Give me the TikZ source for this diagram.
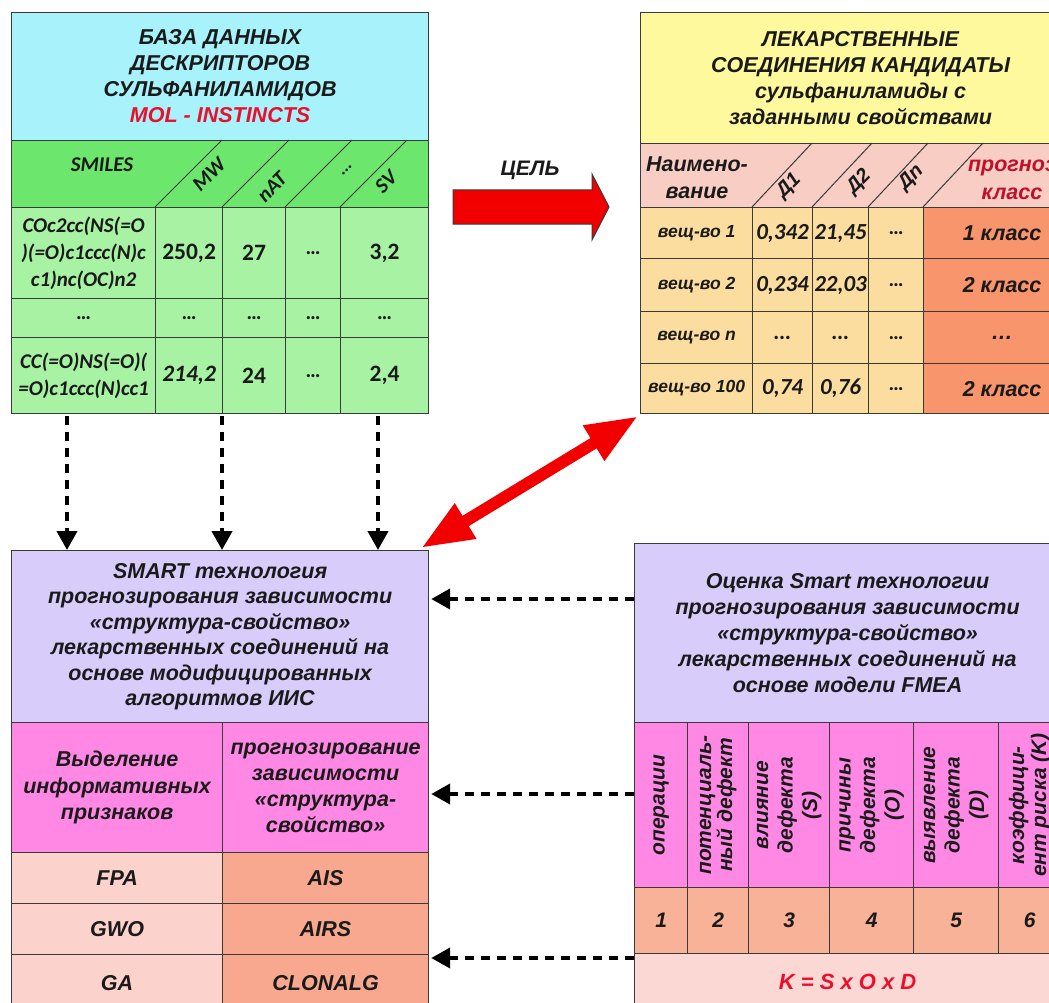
\documentclass[tikz,border=0pt]{standalone}
\usepackage{fontspec}
\setmainfont{Liberation Sans}
\newfontfamily\calib{Carlito}
\usetikzlibrary{arrows.meta,calc}
\definecolor{bord}{HTML}{3A3A3A}
\definecolor{txt}{HTML}{1A1A1A}
\definecolor{cyanh}{HTML}{A8F2FB}
\definecolor{greenh}{HTML}{6CE66C}
\definecolor{greenl}{HTML}{A8F2A4}
\definecolor{yellowh}{HTML}{FFF99E}
\definecolor{pinkh}{HTML}{F7CDC4}
\definecolor{orangel}{HTML}{FCDDA0}
\definecolor{oranged}{HTML}{F8956C}
\definecolor{purpleh}{HTML}{D8CCFA}
\definecolor{magh}{HTML}{FF88E4}
\definecolor{pinkl}{HTML}{FBD2CC}
\definecolor{salmon}{HTML}{F7A88E}
\definecolor{salmonl}{HTML}{F8B298}
\definecolor{pinkf}{HTML}{FCD8D4}
\definecolor{redt}{HTML}{E8102C}
\definecolor{redd}{HTML}{C0102A}
\definecolor{redA}{HTML}{F20000}
\newcommand\fsz[2]{\fontsize{#1}{#2}\selectfont}
\newcommand\bi{\bfseries\itshape}
\newcommand\mkcell[8]{\node[cell,fill=#6,minimum width=#4pt,minimum height=#5pt,font={#7}] (#1) at (#2,#3) {#8};}
\begin{document}
\begin{tikzpicture}[x=1pt,y=-1pt,
  cell/.style={draw=bord,line width=1.2pt,inner sep=0pt,align=center,anchor=north west,text=txt},
  lbl/.style={inner sep=0pt,align=center,text=txt},
  diag/.style={draw=bord,line width=1pt},
  dasharr/.style={line width=4pt,dash pattern=on 9pt off 7pt,-{Triangle[length=19pt,width=20pt]},draw=black},
  bigarr/.style={line width=12pt,draw=redA,{Triangle[length=52pt,width=38pt]}-{Triangle[length=52pt,width=38pt]}},
  goalarr/.style={fill=redA,draw=bord,line width=1pt,line join=miter}
]
\useasboundingbox (0,0) rectangle (1049,1003);
\clip (0,0) rectangle (1049,1003);
\fill[white] (0,0) rectangle (1049,1003);

% ---------- top-left table ----------
\mkcell{tlh}{11}{12}{417}{128}{cyanh}{\fsz{21.5}{26}\bi}{БАЗА ДАННЫХ\\ДЕСКРИПТОРОВ\\СУЛЬФАНИЛАМИДОВ\\\textcolor{redt}{MOL - INSTINCTS}}
\mkcell{tlg}{11}{140}{417}{67}{greenh}{}{}
\mkcell{tlr1a}{11}{207}{144}{91}{greenl}{\calib\fsz{21}{27}\bi}{COc2cc(NS(=O\\)(=O)c1ccc(N)c\\c1)nc(OC)n2}
\mkcell{tlr1b}{155}{207}{67}{91}{greenl}{\calib\fsz{23.5}{26}\bfseries}{250,2}
\mkcell{tlr1c}{222}{207}{63}{91}{greenl}{\calib\fsz{23.5}{26}\bfseries}{27}
\mkcell{tlr1d}{285}{207}{55}{91}{greenl}{\calib\fsz{21}{26}\bfseries}{\dots}
\mkcell{tlr1e}{340}{207}{88}{91}{greenl}{\calib\fsz{23.5}{26}\bfseries}{3,2}
\mkcell{tlr2a}{11}{298}{144}{39}{greenl}{\calib\fsz{21}{26}\bfseries}{\dots}
\mkcell{tlr2b}{155}{298}{67}{39}{greenl}{\calib\fsz{21}{26}\bfseries}{\dots}
\mkcell{tlr2c}{222}{298}{63}{39}{greenl}{\calib\fsz{21}{26}\bfseries}{\dots}
\mkcell{tlr2d}{285}{298}{55}{39}{greenl}{\calib\fsz{21}{26}\bfseries}{\dots}
\mkcell{tlr2e}{340}{298}{88}{39}{greenl}{\calib\fsz{21}{26}\bfseries}{\dots}
\mkcell{tlr3a}{11}{337}{144}{76}{greenl}{\calib\fsz{21}{27}\bi}{CC(=O)NS(=O)(\\=O)c1ccc(N)cc1}
\mkcell{tlr3b}{155}{337}{67}{76}{greenl}{\calib\fsz{23.5}{26}\bi}{214,2}
\mkcell{tlr3c}{222}{337}{63}{76}{greenl}{\calib\fsz{23.5}{26}\bfseries}{24}
\mkcell{tlr3d}{285}{337}{55}{76}{greenl}{\calib\fsz{21}{26}\bfseries}{\dots}
\mkcell{tlr3e}{340}{337}{88}{76}{greenl}{\calib\fsz{23.5}{26}\bfseries}{2,4}
\draw[diag] (tlr1b.north west) -- ++(67,-67);
\draw[diag] (tlr1c.north west) -- ++(67,-67);
\draw[diag] (tlr1d.north west) -- ++(67,-67);
\draw[diag] (tlr1e.north west) -- ++(67,-67);
\node[lbl,font=\calib\fsz{21}{22}\bi] (smiles) at (102,165) {SMILES};
\node[lbl,font=\calib\fsz{21}{22}\bi,rotate=45] (mw) at (209,174) {MW};
\node[lbl,font=\calib\fsz{21}{22}\bi,rotate=45] (nat) at (272,187) {nAT};
\node[lbl,font=\calib\fsz{18}{20}\bi,rotate=45] (ddd) at (347,170) {\dots};
\node[lbl,font=\calib\fsz{21}{22}\bi,rotate=45] (sv) at (386,182) {SV};

% ---------- top-right table ----------
\mkcell{trh}{640}{12}{440}{131}{yellowh}{\fsz{21.5}{26}\bi}{ЛЕКАРСТВЕННЫЕ\\СОЕДИНЕНИЯ КАНДИДАТЫ\\сульфаниламиды с\\заданными свойствами}
\mkcell{trp}{640}{143}{440}{64}{pinkh}{}{}
\newcommand\trrow[7]{%
\mkcell{trr#1a}{640}{#2}{112}{#3}{orangel}{\fsz{17.5}{20}\bi}{#4}
\mkcell{trr#1b}{752}{#2}{60}{#3}{orangel}{\calib\fsz{23}{26}\bi}{#5}
\mkcell{trr#1c}{812}{#2}{56}{#3}{orangel}{\calib\fsz{23}{26}\bi}{#6}
\mkcell{trr#1d}{868}{#2}{55}{#3}{orangel}{\calib\fsz{21}{26}\bfseries}{\dots}
\mkcell{trr#1e}{923}{#2}{157}{#3}{oranged}{\fsz{21.5}{26}\bi}{#7}}
\trrow{1}{207}{51}{вещ-во 1}{0,342}{21,45}{1 класс}
\trrow{2}{258}{53}{вещ-во 2}{0,234}{22,03}{2 класс}
\trrow{3}{311}{52}{вещ-во n}{\dots}{\dots}{\dots}
\trrow{4}{363}{50}{вещ-во 100}{0,74}{0,76}{2 класс}
\draw[diag] (trr1b.north west) -- ++(60,-64);
\draw[diag] (trr1c.north west) -- ++(60,-64);
\draw[diag] (trr1d.north west) -- ++(60,-64);
\draw[diag] (trr1e.north west) -- ++(60,-64);
\node[lbl,font=\fsz{21.5}{27}\bi] (naim) at (697,178) {Наимено-\\вание};
\node[lbl,font=\fsz{20}{22}\bi,rotate=45] (d1) at (789,186) {Д1};
\node[lbl,font=\fsz{20}{22}\bi,rotate=45] (d2) at (859,182) {Д2};
\node[lbl,font=\fsz{20}{22}\bi,rotate=45] (dn) at (911,178) {Дn};
\node[lbl,font=\fsz{21.5}{28}\bi,text=redd] (prog) at (1012,180) {прогноз\\класс};

% ---------- goal arrow ----------
\node[lbl,font=\fsz{21}{22}\bi] (goal) at (530,170) {ЦЕЛЬ};
\coordinate (g) at (453,207);
\draw[goalarr] (g) ++(0,-17) -- ++(139,0) -- ++(0,-16) -- ++(17,33) -- ++(-17,33) -- ++(0,-16) -- ++(-139,0) -- cycle;

% ---------- bottom-left table ----------
\mkcell{blh}{11}{550}{417}{172}{purpleh}{\fsz{21.5}{25.5}\bi}{SMART технология\\прогнозирования зависимости\\«структура-свойство»\\лекарственных соединений на\\основе модифицированных\\алгоритмов ИИС}
\mkcell{blp1}{11}{722}{211}{130}{magh}{\fsz{21.5}{26.5}\bi}{Выделение\\информативных\\признаков}
\mkcell{blp2}{222}{722}{206}{130}{magh}{\fsz{21.5}{26}\bi}{прогнозирование\\зависимости\\«структура-\\свойство»}
\mkcell{blr1a}{11}{852}{211}{51}{pinkl}{\fsz{21.5}{26}\bi}{FPA}
\mkcell{blr1b}{222}{852}{206}{51}{salmon}{\fsz{21.5}{26}\bi}{AIS}
\mkcell{blr2a}{11}{903}{211}{51}{pinkl}{\fsz{21.5}{26}\bi}{GWO}
\mkcell{blr2b}{222}{903}{206}{51}{salmon}{\fsz{21.5}{26}\bi}{AIRS}
\mkcell{blr3a}{11}{954}{211}{56}{pinkl}{\fsz{21.5}{26}\bi}{GA}
\mkcell{blr3b}{222}{954}{206}{56}{salmon}{\fsz{21.5}{26}\bi}{CLONALG}

% ---------- bottom-right table ----------
\mkcell{brh}{634}{543}{426}{179}{purpleh}{\fsz{21.5}{26}\bi}{Оценка Smart технологии\\прогнозирования зависимости\\«структура-свойство»\\лекарственных соединений на\\основе модели FMEA}
\mkcell{brp1}{634}{722}{53}{165}{magh}{}{}
\mkcell{brp2}{687}{722}{61}{165}{magh}{}{}
\mkcell{brp3}{748}{722}{81}{165}{magh}{}{}
\mkcell{brp4}{829}{722}{84}{165}{magh}{}{}
\mkcell{brp5}{913}{722}{85}{165}{magh}{}{}
\mkcell{brp6}{998}{722}{62}{165}{magh}{}{}
\node[lbl,rotate=90,font=\fsz{21}{22}\bi] (rt1) at (brp1.center) {операции};
\node[lbl,rotate=90,font=\fsz{21}{21}\bi] (rt2) at (brp2.center) {потенциаль-\\ный дефект};
\node[lbl,rotate=90,font=\fsz{21}{24.5}\bi] (rt3) at (brp3.center) {влияние\\дефекта\\(S)};
\node[lbl,rotate=90,font=\fsz{21}{24.5}\bi] (rt4) at (brp4.center) {причины\\дефекта\\(O)};
\node[lbl,rotate=90,font=\fsz{21}{24.5}\bi] (rt5) at (brp5.center) {выявление\\дефекта\\(D)};
\node[lbl,rotate=90,font=\fsz{21}{22}\bi] (rt6) at (brp6.center) {коэффици-\\ент риска (K)};
\mkcell{brn1}{634}{887}{53}{66}{salmonl}{\fsz{21}{26}\bi}{1}
\mkcell{brn2}{687}{887}{61}{66}{salmonl}{\fsz{21}{26}\bi}{2}
\mkcell{brn3}{748}{887}{81}{66}{salmonl}{\fsz{21}{26}\bi}{3}
\mkcell{brn4}{829}{887}{84}{66}{salmonl}{\fsz{21}{26}\bi}{4}
\mkcell{brn5}{913}{887}{85}{66}{salmonl}{\fsz{21}{26}\bi}{5}
\mkcell{brn6}{998}{887}{62}{66}{salmonl}{\fsz{21}{26}\bi}{6}
\node[cell,fill=pinkf,minimum width=426pt,minimum height=57pt,font=\fsz{22}{26}\bi,text=redt] (brf) at (634,953) {K = S x O x D};

% ---------- connectors ----------
\draw[dasharr] ([xshift=56pt,yshift=-2pt]tlr3a.south west) -- ([xshift=56pt]blh.north west);
\draw[dasharr] ([yshift=-2pt]tlr3c.south west) -- (blh.north west -| tlr3c.south west);
\draw[dasharr] ([xshift=38pt,yshift=-2pt]tlr3e.south west) -- (blh.north west -| {$(tlr3e.south west)+(38,0)$});
\coordinate (y1) at (0,599);
\coordinate (y2) at (0,794);
\coordinate (y3) at (0,958);
\draw[dasharr] (brh.west |- y1) -- ([xshift=2pt]blh.east |- y1);
\draw[dasharr] (brp1.west |- y2) -- ([xshift=2pt]blp2.east |- y2);
\draw[dasharr] (brf.west |- y3) -- ([xshift=2pt]blr3b.east |- y3);
\draw[bigarr] ([xshift=-8pt,yshift=2pt]blh.north east) -- ([xshift=-2pt,yshift=-2pt]trr4a.south west);
\end{tikzpicture}
\end{document}
